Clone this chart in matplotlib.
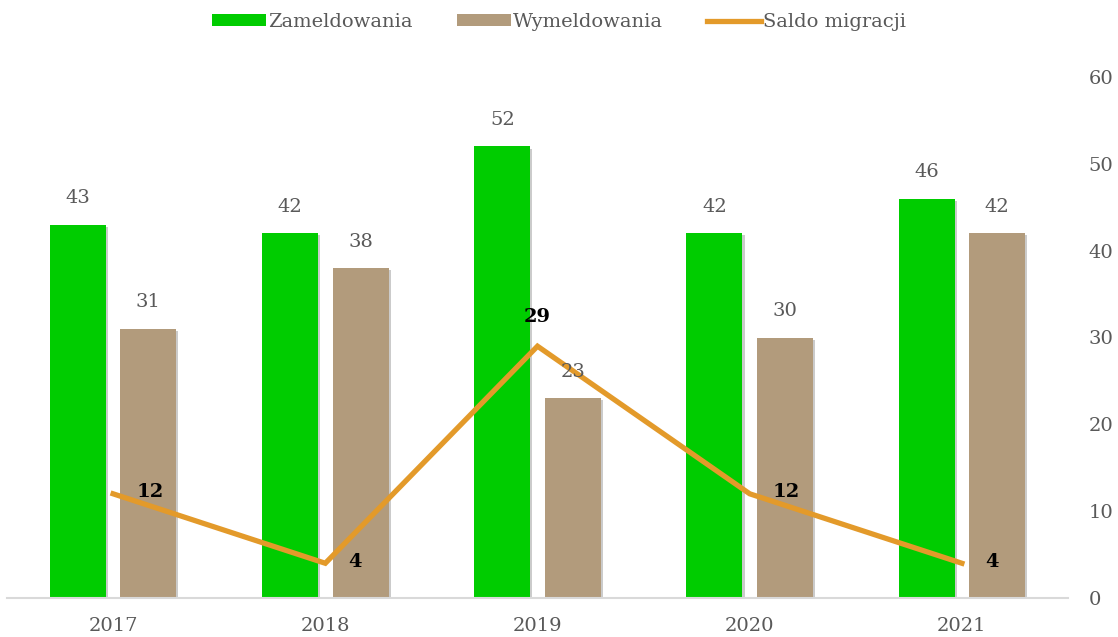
import matplotlib
matplotlib.use("Agg")
import matplotlib.pyplot as plt
import matplotlib.patheffects as pe
import numpy as np

years = ["2017", "2018", "2019", "2020", "2021"]
zameldowania = [43, 42, 52, 42, 46]
wymeldowania = [31, 38, 23, 30, 42]
saldo = [12, 4, 29, 12, 4]
yticks = [0, 10, 20, 30, 40, 50, 60]

plt.rcParams['font.family'] = ['DejaVu Serif']

green = "#00CC00"
tan = "#B29B7C"
orange = "#E39A2A"
grey = "#595959"

fig = plt.figure(figsize=(11.18, 6.37), dpi=100)
ax = fig.add_axes([7/1118, 39/637, 1061/1118, 521/637])

x = np.arange(len(years))
w = 0.264
off = 0.166
shadow = [pe.SimplePatchShadow(offset=(1.5, -1.5), shadow_rgbFace="#999999", alpha=0.5), pe.Normal()]
b1 = ax.bar(x - off, zameldowania, w, color=green, label="Zameldowania", zorder=2, path_effects=shadow)
b2 = ax.bar(x + off, wymeldowania, w, color=tan, label="Wymeldowania", zorder=2, path_effects=shadow)
ln, = ax.plot(x, saldo, color=orange, lw=3.8, label="Saldo migracji", zorder=3, solid_joinstyle='miter')

fs = 14
for xi, v in zip(x, zameldowania):
    ax.text(xi - off, v + 2.0, str(v), ha='center', va='bottom', fontsize=fs, color=grey)
for xi, v in zip(x, wymeldowania):
    ax.text(xi + off, v + 2.0, str(v), ha='center', va='bottom', fontsize=fs, color=grey)
for i, (xi, v) in enumerate(zip(x, saldo)):
    if i == 2:
        ax.text(xi, v + 2.3, str(v), ha='center', va='bottom', fontsize=fs, color='black', fontweight='bold', zorder=4)
    else:
        ax.text(xi + 0.11, v + 0.2, str(v), ha='left', va='center', fontsize=fs, color='black', fontweight='bold', zorder=4)

ax.set_xlim(-0.5, 4.5)
ax.set_ylim(0, 60)
ax.set_xticks(x)
ax.set_xticklabels(years, fontsize=fs, color=grey)
ax.yaxis.tick_right()
ax.set_yticks(yticks)
ax.set_yticklabels([str(t) for t in yticks], fontsize=fs, color=grey)
ax.tick_params(axis='y', length=0, pad=15)
ax.tick_params(axis='x', length=0, pad=14)
for s in ['top', 'left', 'right']:
    ax.spines[s].set_visible(False)
ax.spines['bottom'].set_color("#D9D9D9")
ax.spines['bottom'].set_linewidth(1.5)

leg = fig.legend(handles=[b1, b2, ln], loc='upper center', bbox_to_anchor=(0.5, 1.007), ncol=3,
                 frameon=False, fontsize=14, handlelength=2.75, handleheight=0.55, handletextpad=0.1,
                 columnspacing=2.3, labelcolor=grey)
for h in leg.legend_handles[:2]:
    h.set_path_effects([])

fig.savefig("out.png", dpi=100)
